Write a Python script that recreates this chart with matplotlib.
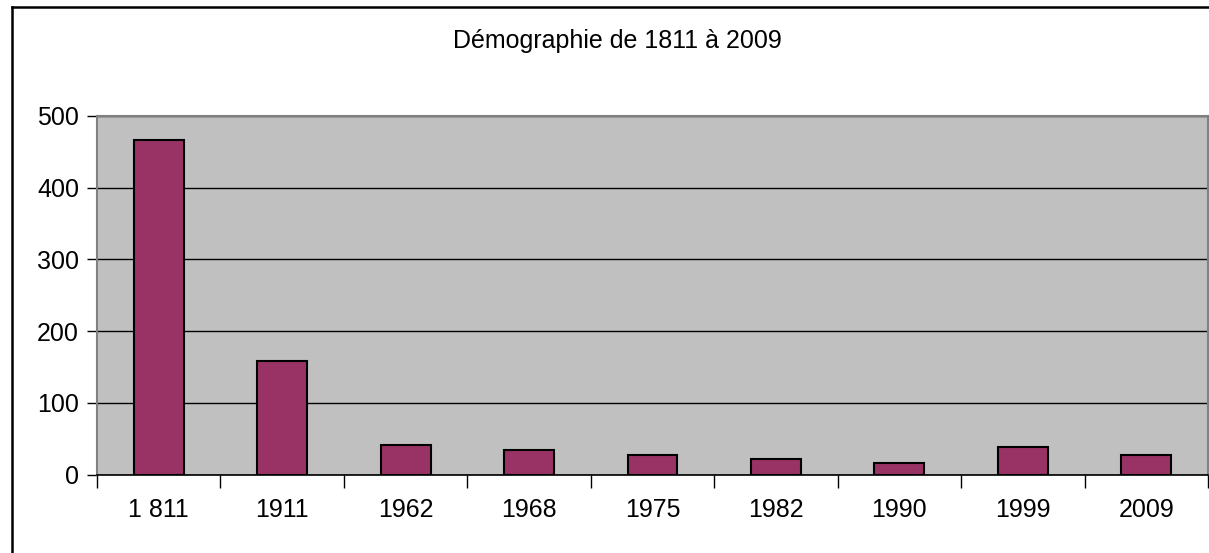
import matplotlib
matplotlib.use('Agg')
import matplotlib.pyplot as plt
from matplotlib.lines import Line2D
import numpy as np

plt.rcParams.update({
    'font.family': ['Liberation Sans', 'DejaVu Sans'],
    'font.size': 18,
})

# ── Data ────────────────────────────────────────────────────────────────────
YEARS = ['1 811', '1911', '1962', '1968', '1975', '1982', '1990', '1999', '2009']
POPULATION = [466, 159, 42, 34, 28, 22, 17, 38, 28]
TITLE = 'Démographie de 1811 à 2009'

BAR_COLOR = '#993366'
PLOT_BG = '#c0c0c0'

fig = plt.figure(figsize=(12.09, 5.53), dpi=100)
ax = fig.add_axes([97 / 1209, (553 - 474.7) / 553, 1111 / 1209, 358.7 / 553])
ax.set_facecolor(PLOT_BG)

x = np.arange(len(YEARS))
ax.bar(x, POPULATION, width=0.405, color=BAR_COLOR,
       edgecolor='black', linewidth=1.5, zorder=3)

ax.set_xlim(-0.5, len(YEARS) - 0.5)
ax.set_ylim(0, 500)
ax.set_yticks(range(0, 501, 100))
ax.yaxis.grid(True, color='black', linewidth=1.0, zorder=1)
ax.set_axisbelow(True)

# x ticks at category boundaries, labels centred on bars
ax.set_xticks(np.arange(-0.5, len(YEARS), 1.0))
ax.set_xticklabels([])
ax.set_xticks(x, minor=True)
ax.set_xticklabels(YEARS, minor=True)
ax.tick_params(axis='x', which='major', length=9, width=1, color='black', direction='out')
ax.tick_params(axis='x', which='minor', length=0, pad=17)
ax.tick_params(axis='y', length=7, width=1, color='black', direction='out', pad=6)

for side in ('top', 'right', 'left'):
    ax.spines[side].set_color('#808080')
    ax.spines[side].set_linewidth(1.5)
ax.spines['bottom'].set_color('black')
ax.spines['bottom'].set_linewidth(1.2)

fig.text(453 / 1209, 1 - 48 / 553, TITLE, ha='left', va='baseline', fontsize=18)

# outer chart frame (only top and left edges fall inside the picture)
fig.add_artist(Line2D([11.5 / 1209, 1.0], [1 - 6.5 / 553] * 2,
                      transform=fig.transFigure, color='black', lw=1.8))
fig.add_artist(Line2D([11.5 / 1209] * 2, [0.0, 1 - 6.5 / 553],
                      transform=fig.transFigure, color='black', lw=1.8))

fig.savefig('out.png', dpi=100)
